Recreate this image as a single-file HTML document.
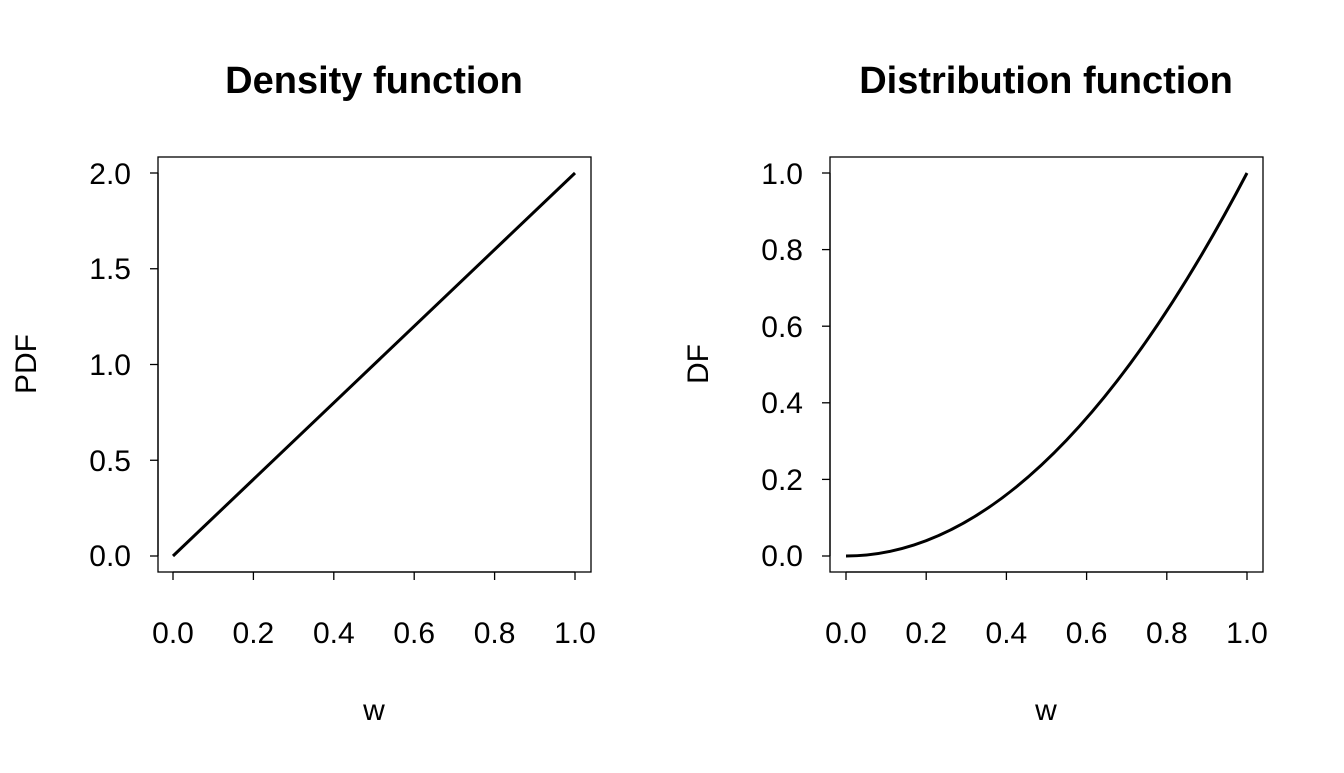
<!DOCTYPE html>
<html><head><meta charset="utf-8"><style>html,body{margin:0;padding:0;background:#fff}</style></head>
<body>
<svg width="1344" height="768" xmlns="http://www.w3.org/2000/svg" font-family="Liberation Sans, Arial, sans-serif" fill="none" stroke="#000">
<!-- Left panel -->
<rect x="158" y="157" width="433" height="415" stroke-width="1.3"/>
<text x="374" y="93" font-size="38" font-weight="bold" text-anchor="middle" fill="#000" stroke="none">Density function</text>
<g stroke-width="1.3">
<line x1="173" y1="572" x2="575" y2="572"/>
<line x1="173" y1="572" x2="173" y2="580"/><line x1="253.4" y1="572" x2="253.4" y2="580"/><line x1="333.8" y1="572" x2="333.8" y2="580"/><line x1="414.2" y1="572" x2="414.2" y2="580"/><line x1="494.6" y1="572" x2="494.6" y2="580"/><line x1="575" y1="572" x2="575" y2="580"/>
<line x1="158" y1="173" x2="158" y2="556"/>
<line x1="150" y1="556" x2="158" y2="556"/><line x1="150" y1="460.25" x2="158" y2="460.25"/><line x1="150" y1="364.5" x2="158" y2="364.5"/><line x1="150" y1="268.75" x2="158" y2="268.75"/><line x1="150" y1="173" x2="158" y2="173"/>
</g>
<g font-size="30" fill="#000" stroke="none" text-anchor="middle">
<text x="173" y="643">0.0</text><text x="253.4" y="643">0.2</text><text x="333.8" y="643">0.4</text><text x="414.2" y="643">0.6</text><text x="494.6" y="643">0.8</text><text x="575" y="643">1.0</text>
<text x="374" y="720">w</text>
<text x="131" y="566" text-anchor="end">0.0</text><text x="131" y="471" text-anchor="end">0.5</text><text x="131" y="375" text-anchor="end">1.0</text><text x="131" y="279" text-anchor="end">1.5</text><text x="131" y="184" text-anchor="end">2.0</text>
<text transform="translate(36,364) rotate(-90)">PDF</text>
</g>
<line x1="173" y1="556" x2="575" y2="173" stroke-width="3"/>

<!-- Right panel -->
<rect x="830" y="157" width="433" height="415" stroke-width="1.3"/>
<text x="1046" y="93" font-size="38" font-weight="bold" text-anchor="middle" fill="#000" stroke="none">Distribution function</text>
<g stroke-width="1.3">
<line x1="846" y1="572" x2="1247" y2="572"/>
<line x1="846" y1="572" x2="846" y2="580"/><line x1="926.2" y1="572" x2="926.2" y2="580"/><line x1="1006.4" y1="572" x2="1006.4" y2="580"/><line x1="1086.6" y1="572" x2="1086.6" y2="580"/><line x1="1166.8" y1="572" x2="1166.8" y2="580"/><line x1="1247" y1="572" x2="1247" y2="580"/>
<line x1="830" y1="173" x2="830" y2="556"/>
<line x1="822" y1="556" x2="830" y2="556"/><line x1="822" y1="479.4" x2="830" y2="479.4"/><line x1="822" y1="402.8" x2="830" y2="402.8"/><line x1="822" y1="326.2" x2="830" y2="326.2"/><line x1="822" y1="249.6" x2="830" y2="249.6"/><line x1="822" y1="173" x2="830" y2="173"/>
</g>
<g font-size="30" fill="#000" stroke="none" text-anchor="middle">
<text x="846" y="643">0.0</text><text x="926.2" y="643">0.2</text><text x="1006.4" y="643">0.4</text><text x="1086.6" y="643">0.6</text><text x="1166.8" y="643">0.8</text><text x="1247" y="643">1.0</text>
<text x="1046" y="720">w</text>
<text x="803" y="566" text-anchor="end">0.0</text><text x="803" y="490" text-anchor="end">0.2</text><text x="803" y="413" text-anchor="end">0.4</text><text x="803" y="337" text-anchor="end">0.6</text><text x="803" y="260" text-anchor="end">0.8</text><text x="803" y="184" text-anchor="end">1.0</text>
<text transform="translate(708,364) rotate(-90)">DF</text>
</g>
<path d="M846,556 Q1046.5,556 1247,173" stroke-width="3"/>
</svg>
</body></html>
